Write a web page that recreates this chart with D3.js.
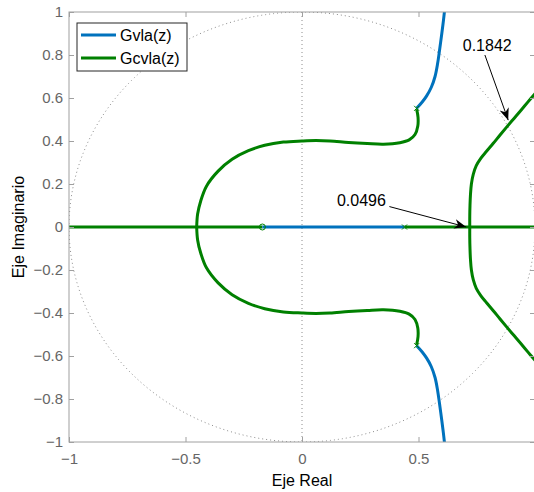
<!DOCTYPE html>
<html><head><meta charset="utf-8">
<script src="https://cdn.jsdelivr.net/npm/d3@7"></script>
<style>html,body{margin:0;padding:0;background:#fff;overflow:hidden}</style>
</head><body>
<script>
// ---- data ----
const xTicks = [-1, -0.5, 0, 0.5];
const yTicks = [-1, -0.8, -0.6, -0.4, -0.2, 0, 0.2, 0.4, 0.6, 0.8, 1];
const legendNames = ["Gvla(z)", "Gcvla(z)"];
const seriesColors = ["#0072BD", "#008000"];

// Gvla(z) branches
const blueReal = [[-0.17, 0], [0.44, 0]];
const blueUpper = [[0.492,0.552],[0.515,0.58],[0.535,0.61],[0.555,0.65],[0.571,0.70],[0.582,0.76],[0.59,0.82],[0.6,0.9],[0.607,0.96],[0.613,1.02],[0.616,1.06]];
const blueLower = [[0.492,-0.552],[0.515,-0.58],[0.535,-0.61],[0.555,-0.65],[0.571,-0.70],[0.582,-0.76],[0.59,-0.82],[0.6,-0.9],[0.607,-0.96],[0.613,-1.02],[0.616,-1.06]];

// Gcvla(z) branches
const greenRealLeft = [[-1.05, 0], [-0.17, 0]];
const greenRealRight = [[0.44, 0], [1.05, 0]];
const greenLoopUpper = [[0.492,0.548],[0.498,0.51],[0.497,0.47],[0.485,0.43],[0.46,0.405],[0.42,0.392],[0.35,0.385],[0.28,0.388],[0.2,0.393],[0.12,0.4],[0.06,0.402],[0.0,0.4],[-0.08,0.395],[-0.16,0.38],[-0.23,0.355],[-0.3,0.315],[-0.36,0.26],[-0.41,0.19],[-0.435,0.12],[-0.448,0.06],[-0.452,0]];
const greenLoopLower = [[0.492,-0.548],[0.498,-0.51],[0.497,-0.47],[0.485,-0.43],[0.46,-0.405],[0.42,-0.392],[0.35,-0.385],[0.28,-0.388],[0.2,-0.393],[0.12,-0.4],[0.06,-0.402],[0.0,-0.4],[-0.08,-0.395],[-0.16,-0.38],[-0.23,-0.355],[-0.3,-0.315],[-0.36,-0.26],[-0.41,-0.19],[-0.435,-0.12],[-0.448,-0.06],[-0.452,0]];
const greenRightUpper = [[0.72,0],[0.72,0.05],[0.721,0.1],[0.723,0.15],[0.727,0.2],[0.735,0.245],[0.748,0.285],[0.768,0.32],[0.792,0.352],[0.82,0.388],[0.85,0.428],[0.88,0.467],[0.91,0.505],[0.94,0.543],[0.97,0.582],[1.0,0.62],[1.04,0.67]];
const greenRightLower = [[0.72,0],[0.72,-0.05],[0.721,-0.1],[0.723,-0.15],[0.727,-0.2],[0.735,-0.245],[0.748,-0.285],[0.768,-0.32],[0.792,-0.352],[0.82,-0.388],[0.85,-0.428],[0.88,-0.467],[0.91,-0.505],[0.94,-0.543],[0.97,-0.582],[1.0,-0.62],[1.04,-0.67]];

const polesX = [[0.492,0.552],[0.492,-0.552],[0.44,0]];
const zerosO = [[-0.17,0]];

// annotations: label, text anchor point (data), arrow start and tip (data)
const annLabels = ["0.1842", "0.0496"];
const annText = [[0.69, 0.82], [0.15, 0.1]];
const annFrom = [[0.785, 0.80], [0.375, 0.095]];
const annTip = [[0.885, 0.497], [0.705, 0.0]];

// ---- drawing ----
const W = 534, H = 492;
const FONT = "'Liberation Sans', Arial, sans-serif";
const svg = d3.select("body").append("svg").attr("width", W).attr("height", H)
  .style("font-family", FONT);

const x = d3.scaleLinear().domain([-1, 1]).range([69, 535]);
const y = d3.scaleLinear().domain([-1, 1]).range([442, 12]);

svg.append("rect").attr("x", 0).attr("y", 0).attr("width", W).attr("height", H).attr("fill", "#fff");

const defs = svg.append("defs");
defs.append("clipPath").attr("id", "clip").append("rect")
  .attr("x", x(-1)).attr("y", y(1)).attr("width", x(1) - x(-1)).attr("height", y(-1) - y(1));
defs.append("marker").attr("id", "arrow").attr("viewBox", "0 0 10 10")
  .attr("refX", 10).attr("refY", 5).attr("markerWidth", 12).attr("markerHeight", 12)
  .attr("markerUnits", "userSpaceOnUse").attr("orient", "auto")
  .append("path").attr("d", "M0,1 L10,5 L0,9 L3,5 Z").attr("fill", "#000");

const plot = svg.append("g").attr("clip-path", "url(#clip)");

// unit circle + dotted axes
const circ = d3.range(0, 361, 1).map(a => [Math.cos(a * Math.PI / 180), Math.sin(a * Math.PI / 180)]);
const line = d3.line().x(d => x(d[0])).y(d => y(d[1]));
plot.append("path").attr("d", line(circ)).attr("fill", "none")
  .attr("stroke", "#8c8c8c").attr("stroke-width", 1).attr("stroke-dasharray", "1,3");
plot.append("line").attr("x1", x(0)).attr("x2", x(0)).attr("y1", y(1)).attr("y2", y(-1))
  .attr("stroke", "#8c8c8c").attr("stroke-dasharray", "1,3");
plot.append("line").attr("x1", x(-1)).attr("x2", x(1)).attr("y1", y(0)).attr("y2", y(0))
  .attr("stroke", "#8c8c8c").attr("stroke-dasharray", "1,3");

const smooth = d3.line().x(d => x(d[0])).y(d => y(d[1])).curve(d3.curveCatmullRom.alpha(0.5));
function draw(data, color) {
  plot.append("path").attr("d", smooth(data)).attr("fill", "none")
    .attr("stroke", color).attr("stroke-width", 3).attr("stroke-linejoin", "round");
}
draw(greenRealLeft, seriesColors[1]);
draw(greenRealRight, seriesColors[1]);
draw(greenLoopUpper, seriesColors[1]);
draw(greenLoopLower, seriesColors[1]);
draw(greenRightUpper, seriesColors[1]);
draw(greenRightLower, seriesColors[1]);
draw(blueReal, seriesColors[0]);
draw(blueUpper, seriesColors[0]);
draw(blueLower, seriesColors[0]);

// markers
polesX.forEach(p => {
  const cx = x(p[0]), cy = y(p[1]), s = 2.5;
  plot.append("path").attr("d", `M${cx-s},${cy-s}L${cx+s},${cy+s}M${cx-s},${cy+s}L${cx+s},${cy-s}`)
    .attr("stroke", seriesColors[1]).attr("stroke-width", 1);
});
zerosO.forEach(p => {
  plot.append("circle").attr("cx", x(p[0])).attr("cy", y(p[1])).attr("r", 3)
    .attr("fill", "none").attr("stroke", seriesColors[1]).attr("stroke-width", 1);
});

// axes box
const axCol = "#a0a0a0";
svg.append("rect").attr("x", x(-1)).attr("y", y(1)).attr("width", x(1) - x(-1)).attr("height", y(-1) - y(1))
  .attr("fill", "none").attr("stroke", axCol).attr("stroke-width", 1);

const gx = svg.append("g").attr("transform", `translate(0,${y(-1)})`)
  .call(d3.axisBottom(x).tickValues(xTicks).tickSizeInner(-5).tickSizeOuter(0).tickPadding(11).tickFormat(d3.format("")));
const gxt = svg.append("g").attr("transform", `translate(0,${y(1)})`)
  .call(d3.axisTop(x).tickValues(xTicks).tickSizeInner(-5).tickSizeOuter(0).tickFormat(""));
const gy = svg.append("g").attr("transform", `translate(${x(-1)},0)`)
  .call(d3.axisLeft(y).tickValues(yTicks).tickSizeInner(-5).tickSizeOuter(0).tickPadding(6).tickFormat(d3.format("")));
const gyr = svg.append("g").attr("transform", `translate(${x(1)},0)`)
  .call(d3.axisRight(y).tickValues(yTicks).tickSizeInner(-5).tickSizeOuter(0).tickFormat(""));
[gx, gxt, gy, gyr].forEach(g => {
  g.select(".domain").remove();
  g.selectAll(".tick line").attr("stroke", axCol);
  g.selectAll(".tick text").attr("fill", "#666").style("font-size", "15px")
    .style("font-family", FONT);
});

// axis titles
svg.append("text").attr("x", x(0)).attr("y", 486).attr("text-anchor", "middle")
  .style("font-size", "16px").attr("fill", "#000").text("Eje Real");
svg.append("text").attr("transform", `translate(24,${y(0)}) rotate(-90)`).attr("text-anchor", "middle")
  .style("font-size", "16px").attr("fill", "#000").text("Eje Imaginario");

// annotations
annLabels.forEach((t, i) => {
  svg.append("line").attr("x1", x(annFrom[i][0])).attr("y1", y(annFrom[i][1]))
    .attr("x2", x(annTip[i][0])).attr("y2", y(annTip[i][1]))
    .attr("stroke", "#000").attr("stroke-width", 1).attr("marker-end", "url(#arrow)");
  svg.append("text").attr("x", x(annText[i][0])).attr("y", y(annText[i][1]))
    .style("font-size", "16px").attr("fill", "#000").text(t);
});

// legend
const lg = svg.append("g");
lg.append("rect").attr("x", 77).attr("y", 23).attr("width", 110).attr("height", 48)
  .attr("fill", "#fff").attr("stroke", "#262626").attr("stroke-width", 1);
legendNames.forEach((n, i) => {
  const yy = 35 + i * 23;
  lg.append("line").attr("x1", 81).attr("x2", 116).attr("y1", yy).attr("y2", yy)
    .attr("stroke", seriesColors[i]).attr("stroke-width", 3);
  lg.append("text").attr("x", 120).attr("y", yy + 6).style("font-size", "16px").attr("fill", "#000").text(n);
});
</script>
</body></html>
